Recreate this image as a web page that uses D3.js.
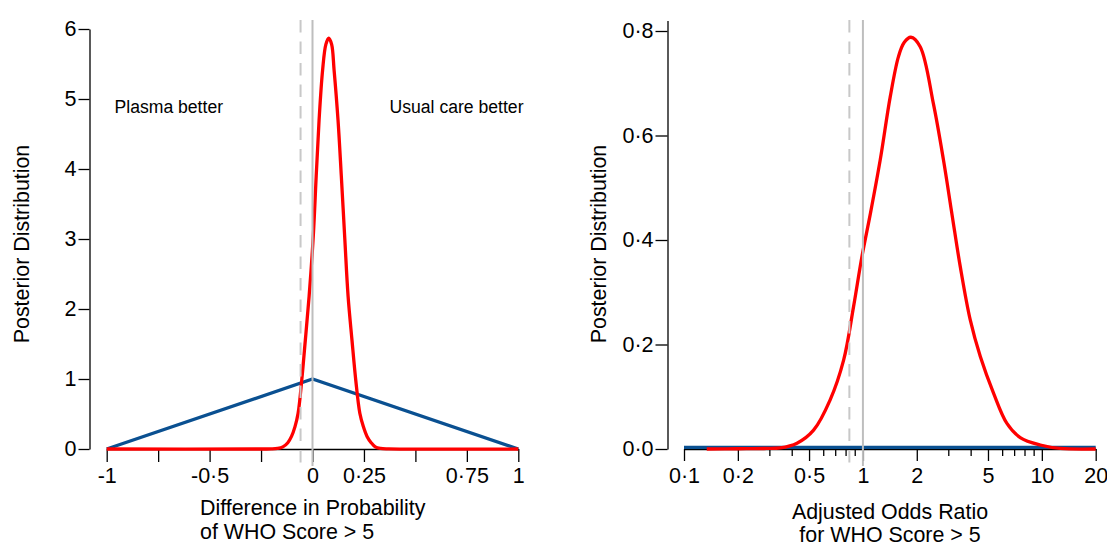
<!DOCTYPE html>
<html>
<head>
<meta charset="utf-8">
<script src="https://cdn.jsdelivr.net/npm/d3@7"></script>
<style>
  html, body { margin: 0; padding: 0; background: #fff; }
  svg { display: block; font-family: "Liberation Sans", Arial, Helvetica, sans-serif; }
</style>
</head>
<body>
<svg id="chart" width="1107" height="546"></svg>
<script>
// ---------- DATA ----------
// Left panel: difference in probability of WHO score > 5
const diffTicks = [-1, -0.75, -0.5, -0.25, 0, 0.25, 0.5, 0.75, 1];
const diffTickLabels = ["-1", "", "-0·5", "", "0", "0·25", "", "0·75", "1"];
const diffYTicks = [0, 1, 2, 3, 4, 5, 6];
const diffYTickLabels = ["0", "1", "2", "3", "4", "5", "6"];

const diffPriorX = [-1, 0, 1];
const diffPriorY = [0, 1, 0];

const diffPostX = [-1, -0.25, -0.20, -0.17, -0.144, -0.12, -0.102, -0.085, -0.07, -0.052, -0.035, -0.0165, 0.004, 0.018, 0.032, 0.049, 0.065, 0.079, 0.093, 0.105, 0.124, 0.140, 0.157, 0.173, 0.192, 0.210, 0.230, 0.247, 0.265, 0.285, 0.305, 0.33, 0.37, 1];
const diffPostY = [0, 0, 0.001, 0.008, 0.03, 0.09, 0.18, 0.32, 0.51, 0.99, 1.55, 2.18, 3.05, 3.90, 4.70, 5.41, 5.78, 5.87, 5.78, 5.41, 4.70, 3.90, 3.0, 2.18, 1.55, 0.99, 0.51, 0.32, 0.18, 0.09, 0.03, 0.008, 0.001, 0];

const diffRefDashed = -0.058;
const diffRefSolid = 0;

// Right panel: adjusted odds ratio
const orMajorTicks = [0.1, 0.2, 0.5, 1, 2, 5, 10, 20];
const orMajorLabels = ["0·1", "0·2", "0·5", "1", "2", "5", "10", "20"];
const orMinorTicks = [0.3, 0.4, 0.6, 0.7, 0.8, 0.9, 3, 4, 6, 7, 8, 9];
const orYTicks = [0, 0.2, 0.4, 0.6, 0.8];
const orYTickLabels = ["0·0", "0·2", "0·4", "0·6", "0·8"];

const orPriorX = [0.1, 20];
const orPriorY = [0.003, 0.003];

const orPostX = [0.134, 0.2, 0.28, 0.345, 0.428, 0.53, 0.656, 0.78, 0.886, 0.987, 1.10, 1.249, 1.421, 1.58, 1.70, 1.854, 2.09, 2.48, 2.82, 3.15, 3.50, 3.98, 4.53, 5.37, 6.38, 7.57, 9.8, 12.7, 20];
const orPostY = [0, 0.0005, 0.001, 0.002, 0.011, 0.036, 0.094, 0.170, 0.272, 0.368, 0.45, 0.553, 0.674, 0.751, 0.778, 0.788, 0.770, 0.660, 0.553, 0.448, 0.349, 0.247, 0.177, 0.107, 0.049, 0.022, 0.0077, 0.001, 0];

const orRefDashed = 0.84;
const orRefSolid = 1;

// ---------- DRAW ----------
const svg = d3.select("#chart");
const RED = "#ff0000", BLUE = "#0a5091", GREY = "#bebebe", GREY2 = "#c8c8c8";
const tickFont = 21.5, titleFont = 21.4, annoFont = 17.6;

function zip(xs, ys) { return xs.map((x, i) => ({ x, y: ys[i] })); }

// ---- Left panel ----
const xL = d3.scaleLinear().domain([-1, 1]).range([106.7, 518.3]);
const yL = d3.scaleLinear().domain([0, 6]).range([449, 29]);

const gL = svg.append("g");

const axL = d3.axisBottom(xL).tickValues(diffTicks)
  .tickFormat((d, i) => diffTickLabels[i]).tickSizeInner(13).tickSizeOuter(0).tickPadding(6);
gL.append("g").attr("transform", "translate(0,449)").call(axL);
const ayL = d3.axisLeft(yL).tickValues(diffYTicks)
  .tickFormat((d, i) => diffYTickLabels[i]).tickSizeInner(11).tickSizeOuter(0).tickPadding(2);
gL.append("g").attr("transform", "translate(89.5,0)").call(ayL);

const lineL = d3.line().x(d => xL(d.x)).y(d => yL(d.y)).curve(d3.curveLinear);
const smoothL = d3.line().x(d => xL(d.x)).y(d => yL(d.y)).curve(d3.curveCatmullRom.alpha(0.5));

gL.append("path").attr("d", lineL(zip(diffPriorX, diffPriorY)))
  .attr("fill", "none").attr("stroke", BLUE).attr("stroke-width", 3.3).attr("stroke-linejoin", "miter");
gL.append("path").attr("d", smoothL(zip(diffPostX, diffPostY)))
  .attr("fill", "none").attr("stroke", RED).attr("stroke-width", 3.3).attr("stroke-linejoin", "round");

gL.append("line").attr("x1", xL(diffRefSolid)).attr("x2", xL(diffRefSolid)).attr("y1", 20).attr("y2", 466)
  .attr("stroke", GREY).attr("stroke-width", 2);
gL.append("line").attr("x1", xL(diffRefDashed)).attr("x2", xL(diffRefDashed)).attr("y1", 20).attr("y2", 466)
  .attr("stroke", GREY2).attr("stroke-width", 2).attr("stroke-dasharray", "12.5,9");

gL.append("text").attr("x", 114.5).attr("y", 113).attr("font-size", annoFont).text("Plasma better");
gL.append("text").attr("x", 523.5).attr("y", 113).attr("text-anchor", "end").attr("font-size", annoFont).text("Usual care better");

gL.append("text").attr("x", 200).attr("y", 515).attr("font-size", titleFont).text("Difference in Probability");
gL.append("text").attr("x", 200).attr("y", 539).attr("font-size", titleFont).text("of WHO Score > 5");
gL.append("text").attr("transform", "translate(28.5,244) rotate(-90)").attr("text-anchor", "middle")
  .attr("font-size", titleFont).text("Posterior Distribution");

// ---- Right panel ----
const xR = d3.scaleLog().domain([0.1, 20]).range([684, 1095.7]);
const yR = d3.scaleLinear().domain([0, 0.82]).range([449, 449 - 0.82 * 522.5]);

const gR = svg.append("g");
const axR = d3.axisBottom(xR).tickValues(orMajorTicks)
  .tickFormat((d, i) => orMajorLabels[i]).tickSizeInner(12).tickSizeOuter(0).tickPadding(7);
gR.append("g").attr("transform", "translate(0,449)").call(axR);
const axRminor = d3.axisBottom(xR).tickValues(orMinorTicks).tickFormat("").tickSizeInner(7).tickSizeOuter(0);
gR.append("g").attr("transform", "translate(0,449)").call(axRminor).select(".domain").remove();

const ayR = d3.axisLeft(yR).tickValues(orYTicks)
  .tickFormat((d, i) => orYTickLabels[i]).tickSizeInner(12).tickSizeOuter(0).tickPadding(2);
gR.append("g").attr("transform", "translate(667.5,0)").call(ayR);

const lineR = d3.line().x(d => xR(d.x)).y(d => yR(d.y)).curve(d3.curveLinear);
const smoothR = d3.line().x(d => xR(d.x)).y(d => yR(d.y)).curve(d3.curveCatmullRom.alpha(0.5));

gR.append("path").attr("d", lineR(zip(orPriorX, orPriorY)))
  .attr("fill", "none").attr("stroke", BLUE).attr("stroke-width", 3.3);
gR.append("path").attr("d", smoothR(zip(orPostX, orPostY)))
  .attr("fill", "none").attr("stroke", RED).attr("stroke-width", 3.3).attr("stroke-linejoin", "round");

gR.append("line").attr("x1", xR(orRefSolid)).attr("x2", xR(orRefSolid)).attr("y1", 20).attr("y2", 466)
  .attr("stroke", GREY).attr("stroke-width", 2);
gR.append("line").attr("x1", xR(orRefDashed)).attr("x2", xR(orRefDashed)).attr("y1", 20).attr("y2", 466)
  .attr("stroke", GREY2).attr("stroke-width", 2).attr("stroke-dasharray", "12.5,9");

gR.append("text").attr("x", 890).attr("y", 518.5).attr("text-anchor", "middle").attr("font-size", titleFont).text("Adjusted Odds Ratio");
gR.append("text").attr("x", 890).attr("y", 542).attr("text-anchor", "middle").attr("font-size", titleFont).text("for WHO Score > 5");
gR.append("text").attr("transform", "translate(606,244) rotate(-90)").attr("text-anchor", "middle")
  .attr("font-size", titleFont).text("Posterior Distribution");

// axis styling
svg.selectAll(".domain").attr("stroke", "#000").attr("stroke-width", 1.3);
svg.selectAll(".tick line").attr("stroke", "#000").attr("stroke-width", 1.3);
svg.selectAll(".tick text").attr("font-size", tickFont).attr("fill", "#000")
  .attr("font-family", "'Liberation Sans', Arial, sans-serif");
</script>
</body>
</html>
